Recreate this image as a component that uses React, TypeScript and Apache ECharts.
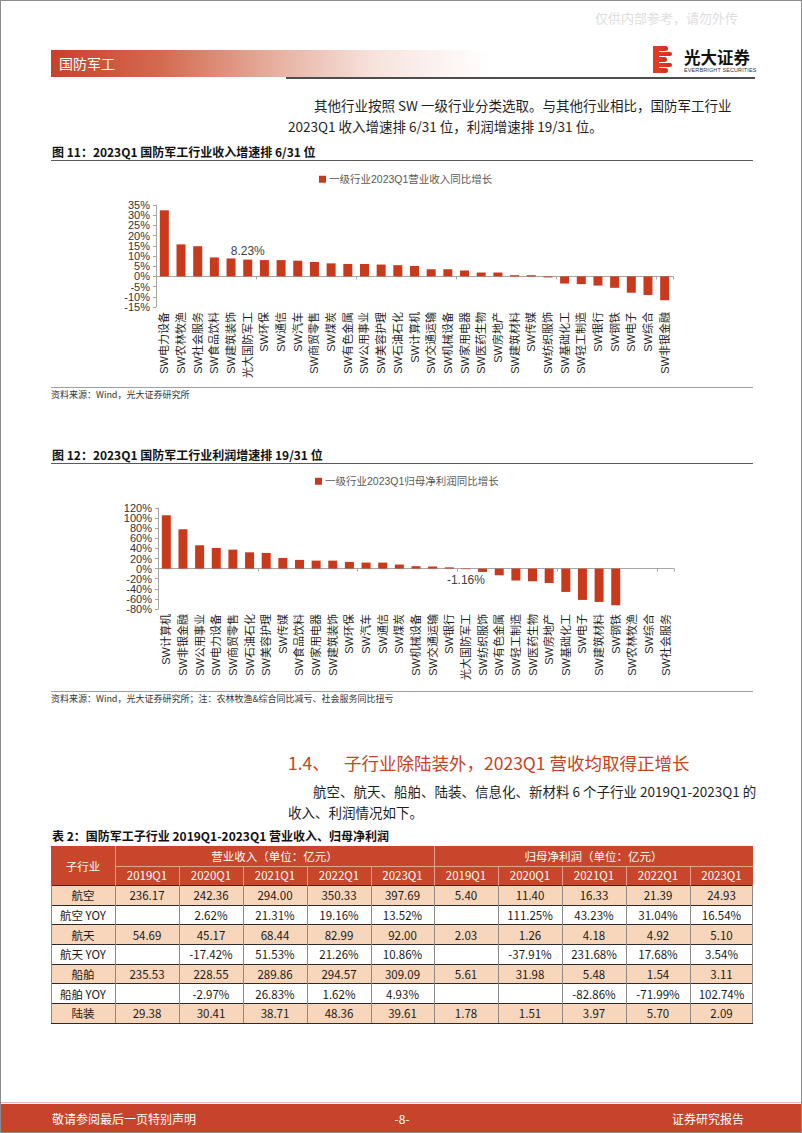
import React, { useEffect, useRef } from "react";
import * as echarts from "echarts";

// ---------- Chart data ----------
const incomeCategories = [
  "SW电力设备", "SW农林牧渔", "SW社会服务", "SW食品饮料", "SW建筑装饰", "光大国防军工", "SW环保", "SW通信",
  "SW汽车", "SW商贸零售", "SW煤炭", "SW有色金属", "SW公用事业", "SW美容护理", "SW石油石化", "SW计算机",
  "SW交通运输", "SW机械设备", "SW家用电器", "SW医药生物", "SW房地产", "SW建筑材料", "SW传媒", "SW纺织服饰",
  "SW基础化工", "SW轻工制造", "SW银行", "SW钢铁", "SW电子", "SW综合", "SW非银金融",
];
const incomeValues = [
  32.4, 15.7, 14.8, 9.3, 8.8, 8.23, 8.0, 8.0, 7.7, 7.1, 6.4, 6.1, 6.1, 5.8, 5.5, 5.1,
  3.5, 3.5, 2.9, 1.9, 1.9, 0.6, 0.6, -0.5, -3.5, -3.8, -4.5, -5.6, -8.0, -9.1, -11.7,
];
const incomeLegend = "一级行业2023Q1营业收入同比增长";
const incomeAxisMin = -15;
const incomeAxisMax = 35;
const incomeAxisInterval = 5;

const profitCategories = [
  "SW计算机", "SW非银金融", "SW公用事业", "SW电力设备", "SW商贸零售", "SW石油石化", "SW美容护理", "SW传媒",
  "SW食品饮料", "SW家用电器", "SW建筑装饰", "SW环保", "SW汽车", "SW通信", "SW煤炭", "SW机械设备",
  "SW交通运输", "SW银行", "光大国防军工", "SW纺织服饰", "SW有色金属", "SW轻工制造", "SW医药生物", "SW房地产",
  "SW基础化工", "SW电子", "SW建筑材料", "SW钢铁", "SW农林牧渔", "SW综合", "SW社会服务",
];
const profitValues: (number | null)[] = [
  105.6, 77.9, 46.2, 40.9, 37.6, 32.3, 31.0, 21.1, 17.2, 15.8, 15.8, 13.2, 11.9, 11.9, 8.0, 4.8,
  4.2, 2.5, -1.16, -6.6, -13.2, -23.8, -25.1, -28.4, -46.2, -62.0, -66.0, -72.6, null, null, null,
];
const profitLegend = "一级行业2023Q1归母净利润同比增长";
const profitAxisMin = -80;
const profitAxisMax = 120;
const profitAxisInterval = 20;

const highlightCategory = "光大国防军工";

// ---------- Table data ----------
const tableCorner = "子行业";
const tableGroups = ["营业收入（单位：亿元）", "归母净利润（单位：亿元）"];
const tableYears = ["2019Q1", "2020Q1", "2021Q1", "2022Q1", "2023Q1"];
const tableRowNames = ["航空", "航空 YOY", "航天", "航天 YOY", "船舶", "船舶 YOY", "陆装"];
const tableRevenue = [
  ["236.17", "242.36", "294.00", "350.33", "397.69"],
  ["", "2.62%", "21.31%", "19.16%", "13.52%"],
  ["54.69", "45.17", "68.44", "82.99", "92.00"],
  ["", "-17.42%", "51.53%", "21.26%", "10.86%"],
  ["235.53", "228.55", "289.86", "294.57", "309.09"],
  ["", "-2.97%", "26.83%", "1.62%", "4.93%"],
  ["29.38", "30.41", "38.71", "48.36", "39.61"],
];
const tableProfit = [
  ["5.40", "11.40", "16.33", "21.39", "24.93"],
  ["", "111.25%", "43.23%", "31.04%", "16.54%"],
  ["2.03", "1.26", "4.18", "4.92", "5.10"],
  ["", "-37.91%", "231.68%", "17.68%", "3.54%"],
  ["5.61", "31.98", "5.48", "1.54", "3.11"],
  ["", "", "-82.86%", "-71.99%", "102.74%"],
  ["1.78", "1.51", "3.97", "5.70", "2.09"],
];

// ---------- Styles ----------
const RED = "#C9411F";
const BAR = "#C93A1D";
const CJK = "'Noto Sans CJK SC', 'Liberation Sans', sans-serif";
const ARIAL = "'Liberation Sans', 'Noto Sans CJK SC', sans-serif";

type ChartProps = {
  top: number;
  height: number;
  categories: string[];
  values: (number | null)[];
  legend: string;
  min: number;
  max: number;
  interval: number;
  gridLeft: number;
  gridTop: number;
  gridWidth: number;
  gridHeight: number;
  legendLeft: number;
  legendTop: number;
  labelDistance: number;
};

function BarChart(p: ChartProps) {
  const ref = useRef<HTMLDivElement>(null);
  useEffect(() => {
    const chart = echarts.init(ref.current!, null, { renderer: "svg" });
    const data = p.values.map((v, i) => {
      if (p.categories[i] === highlightCategory && v !== null) {
        return {
          value: v,
          label: {
            show: true,
            position: v >= 0 ? "top" : "bottom",
            distance: p.labelDistance,
            formatter: v.toFixed(2) + "%",
            fontSize: 12,
            color: "#404040",
            fontFamily: ARIAL,
          },
        };
      }
      return v;
    });
    // tick values of the value axis, split into two alternating label sets so the
    // tightly spaced labels are never removed by overlap handling
    const ticks: number[] = [];
    const n = Math.round((p.max - p.min) / p.interval);
    for (let k = 0; k <= n; k++) ticks.push(p.min + k * p.interval);
    const labelCommon = {
      formatter: "{value}%",
      fontSize: 11,
      color: "#333333",
      margin: 6,
      fontFamily: ARIAL,
      showMinLabel: true,
      showMaxLabel: true,
      hideOverlap: false,
    };
    chart.setOption({
      animation: false,
      legend: {
        data: [p.legend],
        left: p.legendLeft,
        top: p.legendTop,
        padding: 0,
        icon: "rect",
        itemWidth: 7,
        itemHeight: 7,
        selectedMode: false,
        textStyle: { fontSize: 10.5, color: "#595959", fontFamily: ARIAL, padding: [0, 0, 0, -2] },
      },
      grid: { left: p.gridLeft, top: p.gridTop, width: p.gridWidth, height: p.gridHeight },
      xAxis: [
        {
          type: "category",
          data: p.categories,
          position: "bottom",
          axisLine: { onZero: true, lineStyle: { color: "#a6a6a6", width: 1 } },
          axisTick: { show: true, length: 3, lineStyle: { color: "#a6a6a6" } },
          axisLabel: { show: false },
          splitLine: { show: false },
        },
        {
          type: "category",
          data: p.categories,
          position: "bottom",
          axisLine: { show: false, onZero: false },
          axisTick: { show: false },
          splitLine: { show: false },
          axisLabel: {
            rotate: 90,
            interval: 0,
            fontSize: 11,
            color: "#1f1f1f",
            margin: 5,
            fontFamily: ARIAL,
          },
        },
      ],
      yAxis: [
        {
          type: "value",
          position: "left",
          min: p.min,
          max: p.max,
          interval: p.interval,
          axisLine: { show: true, lineStyle: { color: "#a6a6a6" } },
          axisTick: { show: true, length: 3, lineStyle: { color: "#a6a6a6" } },
          splitLine: { show: false },
          axisLabel: { ...labelCommon, customValues: ticks.filter((_, i) => i % 2 === 0) },
        },
        {
          type: "value",
          position: "left",
          min: p.min,
          max: p.max,
          interval: p.interval,
          axisLine: { show: false },
          axisTick: { show: false },
          splitLine: { show: false },
          axisLabel: { ...labelCommon, customValues: ticks.filter((_, i) => i % 2 === 1) },
        },
      ],
      series: [
        {
          name: p.legend,
          type: "bar",
          xAxisIndex: 0,
          yAxisIndex: 0,
          data,
          barWidth: 9,
          itemStyle: { color: BAR },
        },
      ],
    });
    return () => chart.dispose();
  }, []);
  return (
    <div
      ref={ref}
      style={{ position: "absolute", left: 0, top: p.top, width: 802, height: p.height }}
    />
  );
}

type TxtProps = {
  x: number;
  y: number;
  size: number;
  color?: string;
  bold?: boolean;
  align?: "left" | "center" | "right";
  family?: string;
  children: React.ReactNode;
};

function Txt({ x, y, size, color = "#1f1f1f", bold = false, align = "left", family = CJK, children }: TxtProps) {
  const lh = Math.round(size * 1.4);
  const base: React.CSSProperties = {
    position: "absolute",
    top: y - lh / 2,
    fontSize: size,
    lineHeight: lh + "px",
    color,
    fontWeight: bold ? 700 : 400,
    fontFamily: family,
    whiteSpace: "nowrap",
  };
  if (align === "left") return <div style={{ ...base, left: x }}>{children}</div>;
  if (align === "right") return <div style={{ ...base, right: 802 - x, textAlign: "right" }}>{children}</div>;
  return <div style={{ ...base, left: x - 200, width: 400, textAlign: "center" }}>{children}</div>;
}

function Line({ x, y, w, h, color }: { x: number; y: number; w: number; h: number; color: string }) {
  return <div style={{ position: "absolute", left: x, top: y, width: w, height: h, background: color }} />;
}

function Logo() {
  const stripes = [
    { t: 0, w: 15 },
    { t: 5.5, w: 19 },
    { t: 11, w: 14 },
    { t: 16.5, w: 19 },
    { t: 22, w: 15 },
  ];
  return (
    <div style={{ position: "absolute", left: 652, top: 45, width: 22, height: 27 }}>
      {stripes.map((s, i) => (
        <div
          key={i}
          style={{
            position: "absolute",
            left: 0,
            top: s.t,
            width: s.w,
            height: 4.6,
            borderRadius: "0 3px 3px 0",
            background: "linear-gradient(to right, #E8452E, #D42A22)",
          }}
        />
      ))}
      <div style={{ position: "absolute", left: 0, top: 0, width: 6, height: 27, background: "#E2392A" }} />
    </div>
  );
}

function DataTable() {
  const colX = [50, 114, 178, 242, 306, 370, 433, 497, 561, 625, 689, 752];
  const top = 845;
  const rh = 19.67;
  const rowY = (k: number) => top + k * rh;
  const cells: React.ReactNode[] = [];
  const cell = (key: string, x0: number, x1: number, y0: number, y1: number, text: string, bg: string, color: string) => (
    <div
      key={key}
      style={{
        position: "absolute",
        left: x0,
        top: y0,
        width: x1 - x0,
        height: y1 - y0,
        background: bg,
        color,
        fontSize: 11.5,
        fontFamily: CJK,
        display: "flex",
        alignItems: "center",
        justifyContent: "center",
        whiteSpace: "nowrap",
      }}
    >
      {text}
    </div>
  );
  const HEAD = "#C8462B";
  const PEACH = "#F8D6BC";
  cells.push(cell("corner", colX[0], colX[1], rowY(0), rowY(2), tableCorner, HEAD, "#fff"));
  cells.push(cell("g0", colX[1], colX[6], rowY(0), rowY(1), tableGroups[0], HEAD, "#fff"));
  cells.push(cell("g1", colX[6], colX[11], rowY(0), rowY(1), tableGroups[1], HEAD, "#fff"));
  for (let j = 0; j < 10; j++) {
    cells.push(cell("y" + j, colX[j + 1], colX[j + 2], rowY(1), rowY(2), tableYears[j % 5], HEAD, "#fff"));
  }
  tableRowNames.forEach((name, i) => {
    const bg = i % 2 === 0 ? PEACH : "#ffffff";
    const r = i + 2;
    cells.push(cell("n" + i, colX[0], colX[1], rowY(r), rowY(r + 1), name, bg, "#1a1a1a"));
    const vals = [...tableRevenue[i], ...tableProfit[i]];
    vals.forEach((v, j) => {
      cells.push(cell("c" + i + "_" + j, colX[j + 1], colX[j + 2], rowY(r), rowY(r + 1), v, bg, "#1a1a1a"));
    });
  });
  const lines: React.ReactNode[] = [];
  lines.push(<Line key="hl1" x={colX[1]} y={rowY(1)} w={colX[11] - colX[1]} h={1} color="#E7A190" />);
  lines.push(<Line key="hv1" x={colX[1]} y={rowY(0)} w={1} h={rh * 2} color="#E7A190" />);
  lines.push(<Line key="hv6" x={colX[6]} y={rowY(0)} w={1} h={rh * 2} color="#E7A190" />);
  for (let j = 2; j < 11; j++) {
    if (j === 6) continue;
    lines.push(<Line key={"hv" + j} x={colX[j]} y={rowY(1)} w={1} h={rh} color="#E7A190" />);
  }
  for (let k = 2; k <= 9; k++) {
    lines.push(<Line key={"bl" + k} x={colX[0]} y={rowY(k) - 0.5} w={colX[11] - colX[0]} h={1} color="#2b2b2b" />);
  }
  for (let j = 0; j < 12; j++) {
    lines.push(<Line key={"bv" + j} x={colX[j] - (j === 11 ? 1 : 0)} y={rowY(2)} w={1} h={rh * 7} color="#8a8a8a" />);
  }
  return (
    <>
      {cells}
      {lines}
    </>
  );
}

export default function App() {
  return (
    <div
      style={{
        position: "absolute",
        left: 0,
        top: 0,
        width: 802,
        height: 1133,
        background: "#fff",
        border: "1px solid #8c8c8c",
        boxSizing: "border-box",
        overflow: "hidden",
        fontFamily: CJK,
      }}
    >
      <Txt x={594} y={17} size={13} color="#dedede">仅供内部参考，请勿外传</Txt>

      <div
        style={{
          position: "absolute",
          left: 50,
          top: 49,
          width: 500,
          height: 27,
          background: "linear-gradient(to right, #C8402A 0%, #D36A50 22%, #E7B0A0 45%, #F7E4DE 65%, #ffffff 88%)",
        }}
      />
      <Txt x={58} y={62} size={14} color="#ffffff">国防军工</Txt>
      <Line x={285} y={76} w={469} h={2} color="#4d4d4d" />
      <Logo />
      <Txt x={683} y={56} size={16.5} color="#111" bold>光大证券</Txt>
      <div
        style={{
          position: "absolute",
          left: 683,
          top: 66,
          fontSize: 10,
          transform: "scale(0.55)",
          transformOrigin: "0 0",
          whiteSpace: "nowrap",
          color: "#333",
          fontFamily: ARIAL,
          letterSpacing: 0.2,
        }}
      >
        EVERBRIGHT SECURITIES
      </div>

      <Txt x={313} y={104} size={13.5}>其他行业按照 SW 一级行业分类选取。与其他行业相比，国防军工行业</Txt>
      <Txt x={287} y={125} size={13.5}>2023Q1 收入增速排 6/31 位，利润增速排 19/31 位。</Txt>

      <Txt x={51} y={150} size={12} bold color="#111">图 11：2023Q1 国防军工行业收入增速排 6/31 位</Txt>
      <Line x={50} y={158.5} w={702} h={1.5} color="#5a5a5a" />
      <BarChart
        top={165}
        height={215}
        categories={incomeCategories}
        values={incomeValues}
        legend={incomeLegend}
        min={incomeAxisMin}
        max={incomeAxisMax}
        interval={incomeAxisInterval}
        gridLeft={155}
        gridTop={39}
        gridWidth={517}
        gridHeight={104}
        legendLeft={318}
        legendTop={8}
        labelDistance={3}
      />
      <Line x={50} y={386} w={702} h={1} color="#a0a0a0" />
      <Txt x={50} y={393} size={9} color="#333">资料来源：Wind，光大证券研究所</Txt>

      <Txt x={51} y={453} size={12} bold color="#111">图 12：2023Q1 国防军工行业利润增速排 19/31 位</Txt>
      <Line x={50} y={461.5} w={702} h={1.5} color="#5a5a5a" />
      <BarChart
        top={470}
        height={215}
        categories={profitCategories}
        values={profitValues}
        legend={profitLegend}
        min={profitAxisMin}
        max={profitAxisMax}
        interval={profitAxisInterval}
        gridLeft={157}
        gridTop={37}
        gridWidth={516}
        gridHeight={101}
        legendLeft={314}
        legendTop={5}
        labelDistance={5}
      />
      <Line x={50} y={690} w={702} h={1} color="#a0a0a0" />
      <Txt x={50} y={697} size={9} color="#333">资料来源：Wind，光大证券研究所；注：农林牧渔&综合同比减亏、社会服务同比扭亏</Txt>

      <Txt x={287} y={761} size={17.5} color={RED}>1.4、</Txt>
      <Txt x={343} y={761} size={17.5} color={RED}>子行业除陆装外，2023Q1 营收均取得正增长</Txt>
      <Txt x={312} y={790} size={13.5}>航空、航天、船舶、陆装、信息化、新材料 6 个子行业 2019Q1-2023Q1 的</Txt>
      <Txt x={287} y={811} size={13.5}>收入、利润情况如下。</Txt>

      <Txt x={51} y={834} size={12} bold color="#111">表 2：国防军工子行业 2019Q1-2023Q1 营业收入、归母净利润</Txt>
      <DataTable />

      <Line x={0} y={1101} w={802} h={1} color="#e8b8aa" />
      <div style={{ position: "absolute", left: 0, top: 1103, width: 802, height: 30, background: "#C8432B" }} />
      <Txt x={51} y={1117} size={12} color="#fff">敬请参阅最后一页特别声明</Txt>
      <Txt x={401} y={1117} size={12} color="#fff" align="center">-8-</Txt>
      <Txt x={745} y={1117} size={12} color="#fff" align="right">证券研究报告</Txt>
    </div>
  );
}
